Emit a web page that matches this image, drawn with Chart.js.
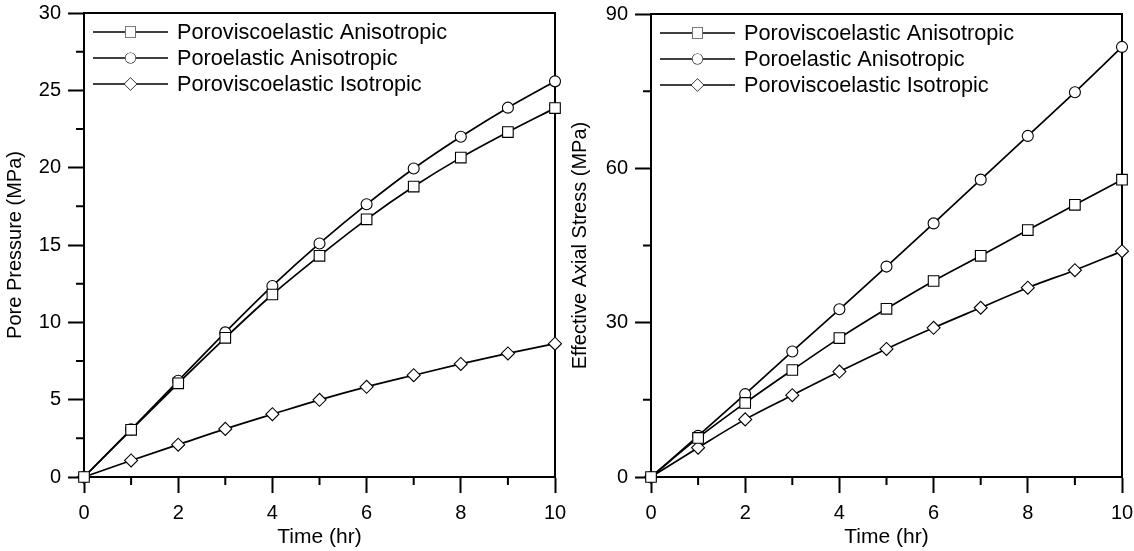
<!DOCTYPE html>
<html>
<head>
<meta charset="utf-8">
<script src="https://cdn.jsdelivr.net/npm/chart.js@4/dist/chart.umd.min.js"></script>
<style>
  body { margin: 0; background: #fff; width: 1134px; height: 551px; overflow: hidden; position: relative; }
  .panel { position: absolute; top: 0; width: 567px; height: 551px; }
</style>
</head>
<body>
<div class="panel" style="left:0"><canvas id="poreChart" width="567" height="551"></canvas></div>
<div class="panel" style="left:567px"><canvas id="stressChart" width="567" height="551"></canvas></div>
<script>
const hours = [0, 1, 2, 3, 4, 5, 6, 7, 8, 9, 10];
const seriesNames = ['Poroviscoelastic Anisotropic', 'Poroelastic Anisotropic', 'Poroviscoelastic Isotropic'];
const seriesMarkers = ['rect', 'circle', 'rectRot'];

// pore pressure (MPa)
const poreViscoAniso = [0, 3.05, 6.06, 9.0, 11.8, 14.3, 16.66, 18.78, 20.65, 22.3, 23.85];
const porePoroAniso  = [0, 3.08, 6.22, 9.35, 12.35, 15.1, 17.63, 19.95, 22.0, 23.88, 25.58];
const poreViscoIso   = [0, 1.07, 2.09, 3.11, 4.06, 4.99, 5.83, 6.58, 7.31, 7.99, 8.62];

// effective axial stress (MPa)
const stressViscoAniso = [0, 7.6, 14.4, 20.8, 27.0, 32.7, 38.1, 43.0, 48.0, 52.9, 57.8];
const stressPoroAniso  = [0, 8.0, 16.1, 24.4, 32.6, 40.9, 49.3, 57.8, 66.3, 74.8, 83.6];
const stressViscoIso   = [0, 5.7, 11.2, 15.9, 20.5, 24.9, 29.0, 32.9, 36.8, 40.2, 43.9];

const FONT = "'Liberation Sans', Arial, sans-serif";

function makeDatasets(values) {
  return values.map((vals, i) => ({
    label: seriesNames[i],
    data: hours.map((h, k) => ({ x: h, y: vals[k] })),
    borderColor: '#000',
    borderWidth: 1.7,
    cubicInterpolationMode: 'monotone',
    clip: false,
    pointStyle: seriesMarkers[i],
    pointRadius: seriesMarkers[i] === 'rect' ? 7.5 : (seriesMarkers[i] === 'circle' ? 5.5 : 6.5),
    pointBorderWidth: 1.1,
    pointBorderColor: '#000',
    pointBackgroundColor: '#fff'
  }));
}

// closes the box and adds the short ticks between labelled ones
const frameAndMinorTicks = {
  id: 'frameAndMinorTicks',
  beforeDatasetsDraw(chart, args, opts) {
    const { ctx, chartArea: a } = chart;
    const xs = chart.scales.x, ys = chart.scales.y;
    ctx.save();
    ctx.strokeStyle = '#000';
    ctx.lineWidth = 2;
    ctx.beginPath();
    ctx.moveTo(a.left, a.top); ctx.lineTo(a.right, a.top); ctx.lineTo(a.right, a.bottom);
    for (let v = xs.min + opts.xStep / 2; v < xs.max; v += opts.xStep) {
      const px = xs.getPixelForValue(v);
      ctx.moveTo(px, a.bottom); ctx.lineTo(px, a.bottom + 8);
    }
    for (let v = ys.min + opts.yStep / 2; v < ys.max; v += opts.yStep) {
      const py = ys.getPixelForValue(v);
      ctx.moveTo(a.left, py); ctx.lineTo(a.left - 8, py);
    }
    ctx.stroke();
    ctx.restore();
  }
};

// line + marker legend in the top-left corner
const lineLegend = {
  id: 'lineLegend',
  afterDraw(chart) {
    const { ctx, chartArea: a } = chart;
    ctx.save();
    chart.data.datasets.forEach((ds, i) => {
      const y = a.top + 19 + i * 26;
      const x0 = a.left + 9, x1 = a.left + 84;
      ctx.strokeStyle = '#000';
      ctx.lineWidth = 1.7;
      ctx.beginPath(); ctx.moveTo(x0, y); ctx.lineTo(x1, y); ctx.stroke();
      ctx.fillStyle = '#fff';
      ctx.lineWidth = 1.1;
      Chart.helpers.drawPoint(ctx, { pointStyle: ds.pointStyle, radius: ds.pointRadius - 0.5, rotation: 0, borderWidth: 1.1 }, (x0 + x1) / 2, y);
      ctx.fill();
      ctx.fillStyle = '#000';
      ctx.font = '21.7px ' + FONT;
      ctx.textBaseline = 'middle';
      ctx.fillText(ds.label, a.left + 93, y + 1);
    });
    ctx.restore();
  }
};

function makeChart(id, values, yMax, yStep, yMinorStep, yTitle, topPad, yTitlePad) {
  return new Chart(document.getElementById(id), {
    type: 'line',
    data: { datasets: makeDatasets(values) },
    options: {
      responsive: false,
      animation: false,
      devicePixelRatio: 1,
      layout: { padding: { top: topPad, right: 12, left: 0, bottom: 0 } },
      plugins: {
        legend: { display: false },
        tooltip: { enabled: false },
        frameAndMinorTicks: { xStep: 2, yStep: yMinorStep * 2 }
      },
      scales: {
        x: {
          type: 'linear', min: 0, max: 10,
          ticks: { stepSize: 2, color: '#000', padding: 8, font: { family: FONT, size: 20 } },
          grid: { drawOnChartArea: false, tickLength: 16, tickWidth: 2, tickColor: '#000' },
          border: { color: '#000', width: 2 },
          title: { display: true, text: 'Time (hr)', color: '#000', padding: { top: 0, bottom: 1 }, font: { family: FONT, size: 21 } },
          afterFit(scale) { scale.height = 74; scale.paddingLeft = 0; scale.paddingRight = 0; }
        },
        y: {
          min: 0, max: yMax,
          ticks: { stepSize: yStep, color: '#000', padding: 7, font: { family: FONT, size: 20 } },
          grid: { drawOnChartArea: false, tickLength: 16, tickWidth: 2, tickColor: '#000' },
          border: { color: '#000', width: 2 },
          title: { display: true, text: yTitle, color: '#000', padding: { top: yTitlePad, bottom: 0 }, font: { family: FONT, size: 20 } },
          afterFit(scale) { scale.width = 84; scale.paddingTop = 0; scale.paddingBottom = 0; }
        }
      }
    },
    plugins: [frameAndMinorTicks, lineLegend]
  });
}

makeChart('poreChart', [poreViscoAniso, porePoroAniso, poreViscoIso], 30, 5, 2.5, 'Pore Pressure (MPa)', 13, 3);
makeChart('stressChart', [stressViscoAniso, stressPoroAniso, stressViscoIso], 90, 30, 15, 'Effective Axial Stress (MPa)', 14, 1);
</script>
</body>
</html>
